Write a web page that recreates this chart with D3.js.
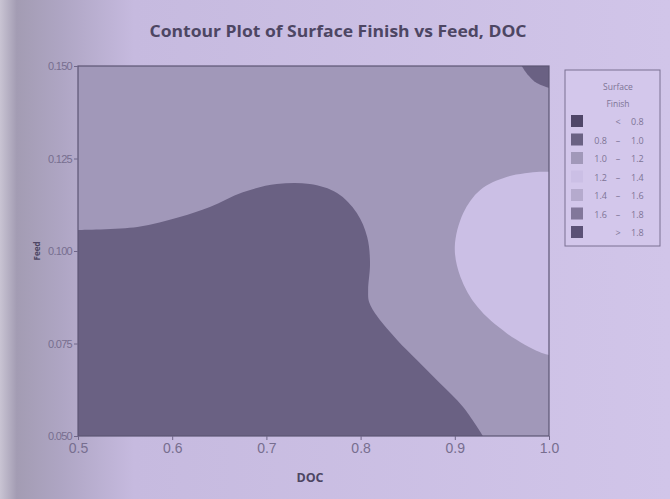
<!DOCTYPE html>
<html>
<head>
<meta charset="utf-8">
<script src="https://cdn.jsdelivr.net/npm/d3@7"></script>
<style>
  body { margin: 0; background: #cdc1e4; }
  svg { display: block; font-family: "Open Sans", "DejaVu Sans", sans-serif; }
</style>
</head>
<body>
<script>
// Axes
const docTicks = [0.5, 0.6, 0.7, 0.8, 0.9, 1.0];
const feedTicks = [0.050, 0.075, 0.100, 0.125, 0.150];

// Contour levels (Surface Finish)
const levelLo = [null, 0.8, 1.0, 1.2, 1.4, 1.6, 1.8];
const levelHi = [0.8, 1.0, 1.2, 1.4, 1.6, 1.8, null];
const levelColors = ["#4f4668", "#6a6183", "#a198b9", "#cbbfe5", "#b5aacd", "#82779a", "#5b5176"];

// Region boundaries, [DOC, Feed]
const darkEdge = [
  [0.500, 0.1057], [0.563, 0.1065], [0.608, 0.1092], [0.640, 0.1119], [0.675, 0.1159],
  [0.711, 0.1181], [0.746, 0.1181], [0.775, 0.1157], [0.796, 0.1103], [0.807, 0.1038],
  [0.810, 0.0968], [0.808, 0.0895], [0.809, 0.0862], [0.818, 0.0822], [0.839, 0.0759],
  [0.860, 0.0705], [0.884, 0.0643], [0.909, 0.0578], [0.930, 0.0500]
];
const lightEdge = [
  [1.000, 0.1214], [0.990, 0.1214], [0.955, 0.1200], [0.927, 0.1165], [0.909, 0.1103],
  [0.900, 0.1011], [0.906, 0.0930], [0.924, 0.0849], [0.955, 0.0778], [0.990, 0.0727],
  [1.000, 0.0719]
];
const cornerEdge = [
  [0.971, 0.1500], [0.977, 0.1478], [0.987, 0.1454], [1.000, 0.1441]
];

const W = 670, H = 499;
const plot = { left: 78, right: 549, top: 66, bottom: 436 };

const svg = d3.select("body").append("svg")
    .attr("width", W)
    .attr("height", H);

// page background with the darker fold on the left
const defs = svg.append("defs");
const grad = defs.append("linearGradient").attr("id", "page");
[[0, "#c9c4d3"], [0.025, "#a39cb3"], [0.09, "#aea5c3"], [0.2, "#c6badf"], [1, "#d1c5e9"]]
  .forEach(s => grad.append("stop").attr("offset", s[0]).attr("stop-color", s[1]));
svg.append("rect").attr("width", W).attr("height", H).attr("fill", "url(#page)");

defs.append("clipPath").attr("id", "clip")
  .append("rect")
    .attr("x", plot.left).attr("y", plot.top)
    .attr("width", plot.right - plot.left).attr("height", plot.bottom - plot.top);

const x = d3.scaleLinear().domain([0.5, 1.0]).range([plot.left, plot.right]);
const y = d3.scaleLinear().domain([0.05, 0.15]).range([plot.bottom, plot.top]);
const color = d3.scaleOrdinal().domain(d3.range(levelLo.length)).range(levelColors);

const curve = d3.line()
    .x(d => x(d[0]))
    .y(d => y(d[1]))
    .curve(d3.curveCatmullRom.alpha(0.5));
const pt = (a, b) => `L${x(a)},${y(b)}`;

const g = svg.append("g").attr("clip-path", "url(#clip)");

// 1.0 - 1.2 fills the whole domain
g.append("rect")
    .attr("x", x(0.5)).attr("y", y(0.15))
    .attr("width", x(1.0) - x(0.5)).attr("height", y(0.05) - y(0.15))
    .attr("fill", color(2));

g.append("path")
    .attr("d", curve(darkEdge) + pt(0.5, 0.05) + "Z")
    .attr("fill", color(1));

g.append("path")
    .attr("d", curve(lightEdge) + "Z")
    .attr("fill", color(3));

g.append("path")
    .attr("d", curve(cornerEdge) + pt(1.0, 0.15) + "Z")
    .attr("fill", color(1));

// frame
svg.append("rect")
    .attr("x", plot.left).attr("y", plot.top)
    .attr("width", plot.right - plot.left).attr("height", plot.bottom - plot.top)
    .attr("fill", "none")
    .attr("stroke", "#5d5574")
    .attr("stroke-width", 1.2);

// axes
const xAxis = svg.append("g")
    .attr("transform", `translate(0,${plot.bottom})`)
    .call(d3.axisBottom(x).tickValues(docTicks).tickFormat(d3.format(".1f")).tickSize(4).tickPadding(3));
xAxis.select(".domain").remove();
xAxis.selectAll("line").attr("stroke", "#6f6688");
xAxis.selectAll("text").attr("fill", "#776e8f").attr("font-size", 14);

const yAxis = svg.append("g")
    .attr("transform", `translate(${plot.left},0)`)
    .call(d3.axisLeft(y).tickValues(feedTicks).tickFormat(d3.format(".3f")).tickSize(4).tickPadding(2));
yAxis.select(".domain").remove();
yAxis.selectAll("line").attr("stroke", "#6f6688");
yAxis.selectAll("text").attr("fill", "#776e8f").attr("font-size", 11).attr("letter-spacing", -0.7);

// titles
svg.append("text")
    .attr("x", 338).attr("y", 37)
    .attr("text-anchor", "middle")
    .attr("font-size", 16)
    .attr("font-weight", "bold")
    .attr("fill", "#4d4663")
    .attr("textLength", 377)
    .attr("lengthAdjust", "spacingAndGlyphs")
    .text("Contour Plot of Surface Finish vs Feed, DOC");

svg.append("text")
    .attr("x", 310).attr("y", 482)
    .attr("text-anchor", "middle")
    .attr("font-size", 12.5)
    .attr("font-weight", "bold")
    .attr("fill", "#4d4663")
    .text("DOC");

svg.append("text")
    .attr("transform", "translate(40,251) rotate(-90)")
    .attr("text-anchor", "middle")
    .attr("font-size", 8)
    .attr("font-weight", "bold")
    .attr("fill", "#4d4663")
    .text("Feed");

// legend
const leg = svg.append("g").attr("transform", "translate(565,70)");
leg.append("rect")
    .attr("width", 95).attr("height", 176)
    .attr("fill", "#d3c7eb")
    .attr("stroke", "#7a7192")
    .attr("stroke-width", 1);
leg.append("text").attr("x", 53).attr("y", 20)
    .attr("text-anchor", "middle").attr("font-size", 8.5).attr("fill", "#7d7495")
    .text("Surface");
leg.append("text").attr("x", 53).attr("y", 37)
    .attr("text-anchor", "middle").attr("font-size", 8.5).attr("fill", "#7d7495")
    .text("Finish");

const fmt = d3.format(".1f");
const rows = leg.selectAll(".row")
    .data(d3.range(levelLo.length))
    .enter().append("g")
    .attr("class", "row")
    .attr("transform", i => `translate(0,${45 + i * 18.5})`);
rows.append("rect")
    .attr("x", 6).attr("width", 12).attr("height", 12)
    .attr("fill", i => color(i));
rows.append("text")
    .attr("x", 42).attr("y", 10).attr("text-anchor", "end")
    .attr("font-size", 9).attr("fill", "#7d7495")
    .text(i => (levelLo[i] === null || levelHi[i] === null) ? "" : fmt(levelLo[i]));
rows.append("text")
    .attr("x", 53).attr("y", 10).attr("text-anchor", "middle")
    .attr("font-size", 9).attr("fill", "#7d7495")
    .text(i => levelLo[i] === null ? "<" : levelHi[i] === null ? ">" : "–");
rows.append("text")
    .attr("x", 66).attr("y", 10)
    .attr("font-size", 9).attr("fill", "#7d7495")
    .text(i => fmt(levelHi[i] === null ? levelLo[i] : levelHi[i]));
</script>
</body>
</html>
